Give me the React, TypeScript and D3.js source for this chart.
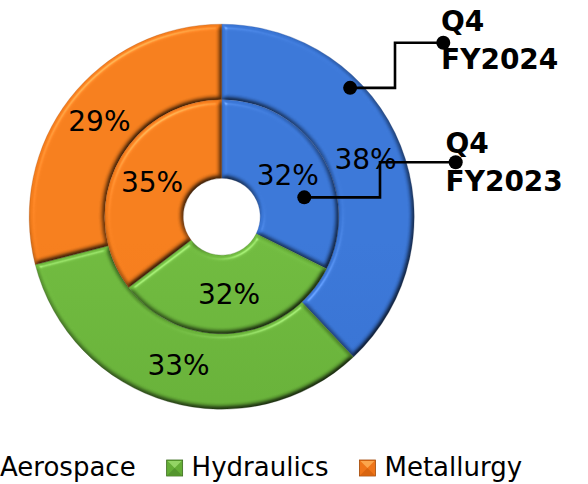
import React from "react";
import * as d3 from "d3";

// Segment categories and the two quarterly series (percent shares)
const categories = ["Aerospace", "Hydraulics", "Metallurgy"];
const fy2024Values = [38, 33, 29];
const fy2023Values = [32, 32, 35];
const seriesLabels = [
  ["Q4", "FY2024"],
  ["Q4", "FY2023"],
];

const W = 588;
const H = 484;
const CX = 221.7;
const CY = 216.7;
const R_HOLE = 38.5;
const R_MID = 117;
const R_OUT = 192.5;

const palette: Record<string, { base: string; light: string; dark: string; tri: string; edge: string }> = {
  Aerospace: { base: "#356fcf", light: "#3a76d6", dark: "#2b5cb8", tri: "#6a9eec", edge: "#1f4a94" },
  Hydraulics: { base: "#64ad36", light: "#6fb93e", dark: "#54952e", tri: "#93d465", edge: "#3a6b1d" },
  Metallurgy: { base: "#ef7519", light: "#f47d1c", dark: "#d96510", tri: "#fba64c", edge: "#a04706" },
};

const FONT = "'DejaVu Sans', 'Liberation Sans', Arial, sans-serif";

function measureText(text: string, font: string): number {
  if (typeof document === "undefined") return text.length * 14;
  const ctx = document.createElement("canvas").getContext("2d");
  if (!ctx) return text.length * 14;
  ctx.font = font;
  return ctx.measureText(text).width;
}

const pie = d3
  .pie<number>()
  .sort(null)
  .value((d) => d);

type Ring = {
  key: string;
  values: number[];
  r0: number;
  r1: number;
  label: string[];
  anchorAngle: number; // degrees, clockwise from 12 o'clock
  anchorFrac: number; // radial position inside the ring
  elbowX: number;
  endX: number;
  endY: number;
  textX: number;
  textY: number;
};

const rings: Ring[] = [
  {
    key: "fy2024",
    values: fy2024Values,
    r0: R_MID,
    r1: R_OUT,
    label: seriesLabels[0],
    anchorAngle: 44.9,
    anchorFrac: 0.86,
    elbowX: 395,
    endX: 443.3,
    endY: 42.7,
    textX: 441,
    textY: 30.7,
  },
  {
    key: "fy2023",
    values: fy2023Values,
    r0: R_HOLE,
    r1: R_MID,
    label: seriesLabels[1],
    anchorAngle: 76.8,
    anchorFrac: 0.59,
    elbowX: 380,
    endX: 455.7,
    endY: 162.3,
    textX: 445.5,
    textY: 153.3,
  },
];

export default function App() {
  const legendFont = `26px ${FONT}`;
  let lx = -25;
  const legendItems = categories.map((c) => {
    const item = { name: c, x: lx };
    lx += 25 + measureText(c, legendFont) + 31;
    return item;
  });

  return (
    <svg
      width={W}
      height={H}
      viewBox={`0 0 ${W} ${H}`}
      style={{ position: "fixed", left: 0, top: 0, background: "#fff" }}
    >
      <defs>
        {categories.map((c) => (
          <linearGradient
            key={c}
            id={`grad-${c}`}
            gradientUnits="userSpaceOnUse"
            x1={0}
            y1={CY - R_OUT}
            x2={0}
            y2={CY + R_OUT}
          >
            <stop offset="0%" stopColor={palette[c].light} />
            <stop offset="55%" stopColor={palette[c].base} />
            <stop offset="100%" stopColor={palette[c].dark} />
          </linearGradient>
        ))}
        <filter id="bevel" x="-10%" y="-10%" width="120%" height="120%" colorInterpolationFilters="sRGB">
          <feGaussianBlur in="SourceAlpha" stdDeviation="2.6" result="blur" />
          <feDiffuseLighting
            in="blur"
            surfaceScale="3.5"
            diffuseConstant="1.155"
            lightingColor="#ffffff"
            result="diffuse"
          >
            <feDistantLight azimuth="235" elevation="60" />
          </feDiffuseLighting>
          <feComposite in="SourceGraphic" in2="diffuse" operator="arithmetic" k1="1" k2="0" k3="0" k4="0" result="shaded" />
          <feSpecularLighting
            in="blur"
            surfaceScale="3"
            specularConstant="0.22"
            specularExponent="45"
            lightingColor="#ffffff"
            result="spec"
          >
            <feDistantLight azimuth="235" elevation="50" />
          </feSpecularLighting>
          <feComposite in="spec" in2="SourceAlpha" operator="in" result="specIn" />
          <feComposite in="shaded" in2="specIn" operator="arithmetic" k1="0" k2="1" k3="1" k4="0" />
        </filter>
      </defs>

      <g transform={`translate(${CX},${CY})`}>
        {rings.map((ring) => {
          const arcGen = d3.arc<d3.PieArcDatum<number>>().innerRadius(ring.r0).outerRadius(ring.r1);
          const slices = pie(ring.values);
          return (
            <g key={ring.key}>
              {slices.map((s, i) => (
                <path
                  key={categories[i]}
                  d={arcGen(s) || ""}
                  fill={`url(#grad-${categories[i]})`}
                  stroke={palette[categories[i]].edge}
                  strokeOpacity={0.35}
                  strokeWidth={0.8}
                  filter="url(#bevel)"
                />
              ))}
              {slices.map((s, i) => {
                const [x, y] = arcGen.centroid(s);
                return (
                  <text
                    key={`lbl-${categories[i]}`}
                    x={x}
                    y={y}
                    textAnchor="middle"
                    dominantBaseline="central"
                    fontFamily={FONT}
                    fontSize={28}
                    fill="#000"
                  >
                    {`${ring.values[i]}%`}
                  </text>
                );
              })}
            </g>
          );
        })}
      </g>

      {/* series name callouts */}
      {rings.map((ring) => {
        const a = (ring.anchorAngle * Math.PI) / 180;
        const rr = ring.r0 + (ring.r1 - ring.r0) * ring.anchorFrac;
        const ax = CX + rr * Math.sin(a);
        const ay = CY - rr * Math.cos(a);
        const pts: [number, number][] = [
          [ax, ay],
          [ring.elbowX, ay],
          [ring.elbowX, ring.endY],
          [ring.endX, ring.endY],
        ];
        return (
          <g key={`co-${ring.key}`}>
            <path d={d3.line()(pts) || ""} fill="none" stroke="#000" strokeWidth={2.6} />
            <circle cx={ax} cy={ay} r={7} fill="#000" />
            <circle cx={ring.endX} cy={ring.endY} r={7} fill="#000" />
            <text fontFamily={FONT} fontWeight="bold" fontSize={28} fill="#000">
              <tspan x={ring.textX} y={ring.textY}>
                {ring.label[0]}
              </tspan>
              <tspan x={ring.textX} y={ring.textY + 37.8}>
                {ring.label[1]}
              </tspan>
            </text>
          </g>
        );
      })}

      {/* legend */}
      <g>
        {legendItems.map((it) => {
          const p = palette[it.name];
          const y0 = 460;
          const s = 16;
          return (
            <g key={it.name}>
              <rect x={it.x} y={y0} width={s} height={s} fill={p.base} stroke={p.edge} strokeWidth={0.8} />
              <polygon
                points={`${it.x + 1},${y0 + 1} ${it.x + s - 1},${y0 + 1} ${it.x + s / 2},${y0 + s / 2}`}
                fill={p.tri}
              />
              <polygon
                points={`${it.x + 1},${y0 + s - 1} ${it.x + s - 1},${y0 + s - 1} ${it.x + s / 2},${y0 + s / 2}`}
                fill={p.dark}
              />
              <text x={it.x + 25} y={476} fontFamily={FONT} fontSize={26} fill="#000">
                {it.name}
              </text>
            </g>
          );
        })}
      </g>
    </svg>
  );
}
